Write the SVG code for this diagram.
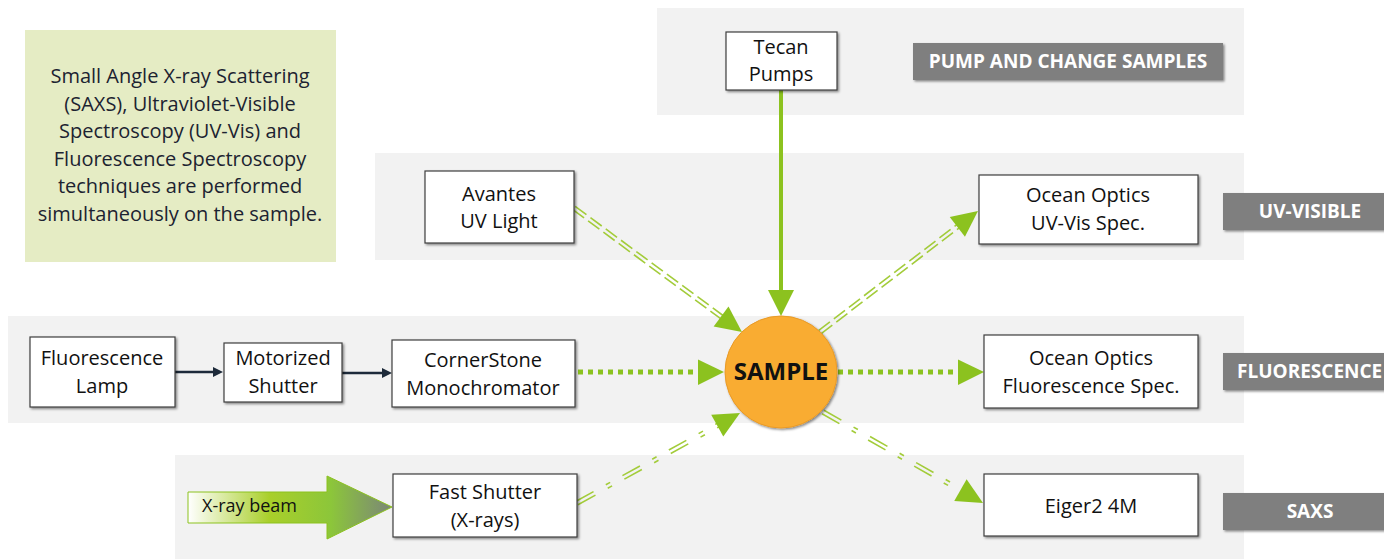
<svg xmlns="http://www.w3.org/2000/svg" width="1384" height="559" viewBox="0 0 1384 559">
<defs>
<style>
.band{fill:#f2f2f2}
.node{fill:#ffffff;stroke:#3f3f3f;stroke-width:1.2;filter:url(#sh)}
.t{font-family:"Open Sans","Liberation Sans",sans-serif;font-size:20px;fill:#111111;text-anchor:middle}
.desc{font-family:"Open Sans","Liberation Sans",sans-serif;font-size:20px;fill:#1c2331;text-anchor:middle}
.lab{fill:#7f7f7f;filter:url(#sh)}
.lt{font-family:"Open Sans","Liberation Sans",sans-serif;font-size:19px;font-weight:bold;fill:#ffffff}
.g{stroke:#8cc21f;fill:none}
.gf{fill:#8cc21f}
.dbl{stroke:#a3cc3a;stroke-width:1.6;fill:none}
</style>
<filter id="sh" x="-10%" y="-10%" width="130%" height="140%">
<feDropShadow dx="1.5" dy="1.5" stdDeviation="1" flood-color="#000" flood-opacity="0.45"/>
</filter>
<linearGradient id="beam" x1="188" y1="0" x2="392" y2="0" gradientUnits="userSpaceOnUse">
<stop offset="0" stop-color="#ffffff"/>
<stop offset="0.4" stop-color="#a9cf2a"/>
<stop offset="0.7" stop-color="#8cc63a"/>
<stop offset="1" stop-color="#7b8678"/>
</linearGradient>
</defs>
<rect width="1384" height="559" fill="#ffffff"/>
<g id="bands">
<rect class="band" x="657" y="8" width="587" height="107"/>
<rect class="band" x="375" y="153" width="869" height="107"/>
<rect class="band" x="8" y="316" width="1236" height="107"/>
<rect class="band" x="175" y="455" width="1069" height="104"/>
</g>
<g id="description">
<rect x="25" y="30" width="311" height="232" fill="#e5ecc4"/>
<text class="desc" x="180" y="83">Small Angle X-ray Scattering</text>
<text class="desc" x="180" y="111">(SAXS), Ultraviolet-Visible</text>
<text class="desc" x="180" y="138">Spectroscopy (UV-Vis) and</text>
<text class="desc" x="180" y="166">Fluorescence Spectroscopy</text>
<text class="desc" x="180" y="193">techniques are performed</text>
<text class="desc" x="180" y="221">simultaneously on the sample.</text>
</g>
<g id="connectors">
<line class="g" x1="781" y1="90" x2="781" y2="292" stroke-width="4"/>
<polygon class="gf" points="768,290 794,290 781,316"/>
<g transform="translate(574,208) rotate(36.43)">
<path class="dbl" d="M0,-2 H186 M0,2 H186" stroke-dasharray="14 5"/>
<polygon class="gf" points="208.8,0 182.8,-12.5 182.8,12.5"/>
</g>
<g transform="translate(820,332) rotate(-37.45)">
<path class="dbl" d="M0,-2 H176 M0,2 H176" stroke-dasharray="14 5"/>
<polygon class="gf" points="199,0 173,-12.5 173,12.5"/>
</g>
<g transform="translate(577,503) rotate(-28.9)">
<path class="dbl" d="M0,-2 H164 M0,2 H164" stroke-dasharray="20 14 5 14"/>
<polygon class="gf" points="186.2,0 160.2,-12.5 160.2,12.5"/>
</g>
<g transform="translate(823,412) rotate(29.63)">
<path class="dbl" d="M0,-2 H162 M0,2 H162" stroke-dasharray="20 14 5 14"/>
<polygon class="gf" points="184.1,0 158.1,-12.5 158.1,12.5"/>
</g>
<line class="g" x1="578" y1="372" x2="700" y2="372" stroke-width="5" stroke-dasharray="5 5"/>
<polygon class="gf" points="698,359.5 698,385 724,372"/>
<line class="g" x1="838" y1="372" x2="960" y2="372" stroke-width="5" stroke-dasharray="5 5"/>
<polygon class="gf" points="958,359.5 958,385 984,372"/>
<line x1="175" y1="372" x2="215" y2="372" stroke="#1d2a3a" stroke-width="2.5"/>
<polygon points="213,367 223,372 213,377" fill="#1d2a3a"/>
<line x1="342" y1="373" x2="384" y2="373" stroke="#1d2a3a" stroke-width="2.5"/>
<polygon points="382,368 392,373 382,378" fill="#1d2a3a"/>
</g>
<g id="xray-beam">
<path d="M188,492 H327 V476 L392,507 L327,539 V523 H188 Z" fill="url(#beam)" stroke="#8cc21f" stroke-width="1"/>
<text x="202" y="512" font-family="'Open Sans','Liberation Sans',sans-serif" font-size="18" fill="#111111">X-ray beam</text>
</g>
<g id="tecan">
<rect class="node" x="726" y="32" width="111" height="58"/>
<text class="t" x="781" y="54">Tecan</text>
<text class="t" x="781" y="81">Pumps</text>
</g>
<g id="avantes">
<rect class="node" x="425" y="171" width="149" height="72"/>
<text class="t" x="499" y="201">Avantes</text>
<text class="t" x="499" y="228">UV Light</text>
</g>
<g id="uvvis-spec">
<rect class="node" x="979" y="175" width="219" height="69"/>
<text class="t" x="1088" y="202">Ocean Optics</text>
<text class="t" x="1088" y="230">UV-Vis Spec.</text>
</g>
<g id="fluor-lamp">
<rect class="node" x="30" y="337" width="145" height="70"/>
<text class="t" x="102" y="365">Fluorescence</text>
<text class="t" x="102" y="393">Lamp</text>
</g>
<g id="motor-shutter">
<rect class="node" x="224" y="343" width="118" height="59"/>
<text class="t" x="283" y="365">Motorized</text>
<text class="t" x="283" y="393">Shutter</text>
</g>
<g id="monochromator">
<rect class="node" x="392" y="340" width="183" height="67"/>
<text class="t" x="483" y="367">CornerStone</text>
<text class="t" x="483" y="395">Monochromator</text>
</g>
<g id="fluor-spec">
<rect class="node" x="984" y="335" width="214" height="73"/>
<text class="t" x="1091" y="365">Ocean Optics</text>
<text class="t" x="1091" y="393">Fluorescence Spec.</text>
</g>
<g id="fast-shutter">
<rect class="node" x="393" y="474" width="184" height="63"/>
<text class="t" x="485" y="499">Fast Shutter</text>
<text class="t" x="485" y="527">(X-rays)</text>
</g>
<g id="eiger">
<rect class="node" x="984" y="474" width="214" height="62"/>
<text class="t" x="1091" y="513">Eiger2 4M</text>
</g>
<g id="sample">
<circle cx="781" cy="372" r="56" fill="#f9ac33" stroke="#e99a25" stroke-width="1" filter="url(#sh)"/>
<text x="781" y="380" text-anchor="middle" font-family="'Open Sans','Liberation Sans',sans-serif" font-size="24" font-weight="bold" fill="#111111">SAMPLE</text>
</g>
<g id="labels">
<rect class="lab" x="913" y="43" width="310" height="37"/>
<text class="lt" x="1068" y="68" text-anchor="middle">PUMP AND CHANGE SAMPLES</text>
<rect class="lab" x="1223" y="193" width="175" height="37"/>
<text class="lt" x="1310" y="218" text-anchor="middle">UV-VISIBLE</text>
<rect class="lab" x="1223" y="353" width="175" height="37"/>
<text class="lt" x="1237" y="378">FLUORESCENCE</text>
<rect class="lab" x="1223" y="493" width="175" height="37"/>
<text class="lt" x="1310" y="518" text-anchor="middle">SAXS</text>
</g>
</svg>
